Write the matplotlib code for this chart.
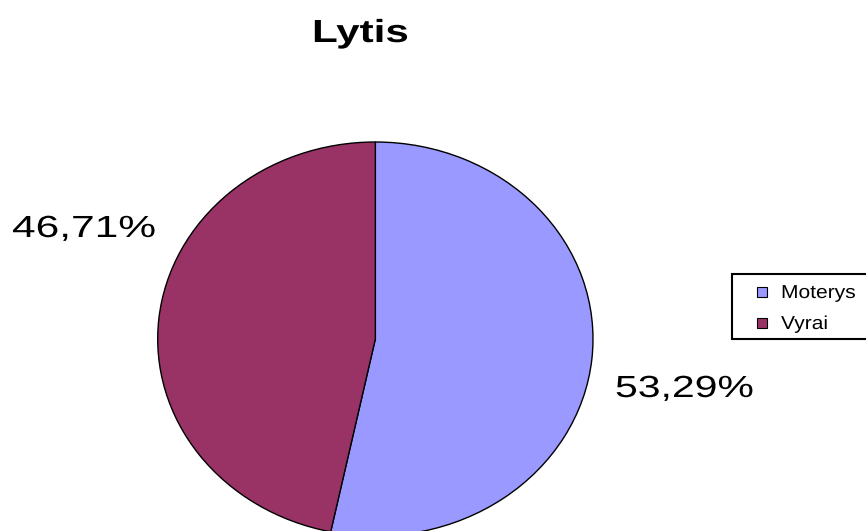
import matplotlib
matplotlib.use("Agg")
import matplotlib.pyplot as plt
from matplotlib.patches import Rectangle
from matplotlib.patheffects import AbstractPathEffect
from matplotlib.transforms import Affine2D

title = "Lytis"
categories = ["Moterys", "Vyrai"]
values = [53.29, 46.71]
labels = ["53,29%", "46,71%"]
colors = ["#9999FF", "#993366"]

W, H = 866, 531
fig = plt.figure(figsize=(W / 100, H / 100), dpi=100)
fig.patch.set_facecolor("white")


def px(x, y):
    return (x / W, 1 - y / H)


class Stretch(AbstractPathEffect):
    def __init__(self, sx):
        super().__init__()
        self.sx = sx

    def draw_path(self, renderer, gc, tpath, affine, rgbFace=None):
        renderer.draw_path(gc, tpath, Affine2D().scale(self.sx, 1) + affine, rgbFace)


FONT = "Liberation Sans"

# Pie axes (elliptical pie)
cx0, cx1 = 157.7, 593.0
cy0, cy1 = 142.0, 536.0
ax = fig.add_axes([cx0 / W, (H - cy1) / H, (cx1 - cx0) / W, (cy1 - cy0) / H])
wedges, _ = ax.pie(values, colors=colors, startangle=90, counterclock=False,
                   radius=1,
                   wedgeprops=dict(edgecolor="black", linewidth=1.0, clip_on=False))
ax.set_aspect("auto")
ax.set_xlim(-1, 1)
ax.set_ylim(-1, 1)
ax.axis("off")

# Title
fig.text(*px(312, 42), title, fontsize=23, fontweight="bold", family=FONT,
         ha="left", va="baseline", path_effects=[Stretch(1.32)])

# Percentage labels
label_pos = [(615, 397), (12, 237)]
label_sx = [1.34, 1.39]
for (x, y), lab, sx in zip(label_pos, labels, label_sx):
    fig.text(*px(x, y), lab, fontsize=22, family=FONT, ha="left", va="baseline",
             path_effects=[Stretch(sx)])

# Legend
lx0, ly0, lx1, ly1 = 732, 274, 872, 339
fig.add_artist(Rectangle(px(lx0, ly1), (lx1 - lx0) / W, (ly1 - ly0) / H,
                         transform=fig.transFigure, facecolor="white",
                         edgecolor="black", linewidth=1.5, clip_on=False))
rows_y = [292, 323]
for cat, col, yy in zip(categories, colors, rows_y):
    fig.add_artist(Rectangle(px(757, yy + 5), 10 / W, 10 / H,
                             transform=fig.transFigure, facecolor=col,
                             edgecolor="black", linewidth=0.8))
    fig.text(*px(781, yy + 6), cat, fontsize=13.5, family=FONT, ha="left",
             va="baseline", path_effects=[Stretch(1.12)])

fig.savefig("out.png", dpi=100, facecolor="white")
